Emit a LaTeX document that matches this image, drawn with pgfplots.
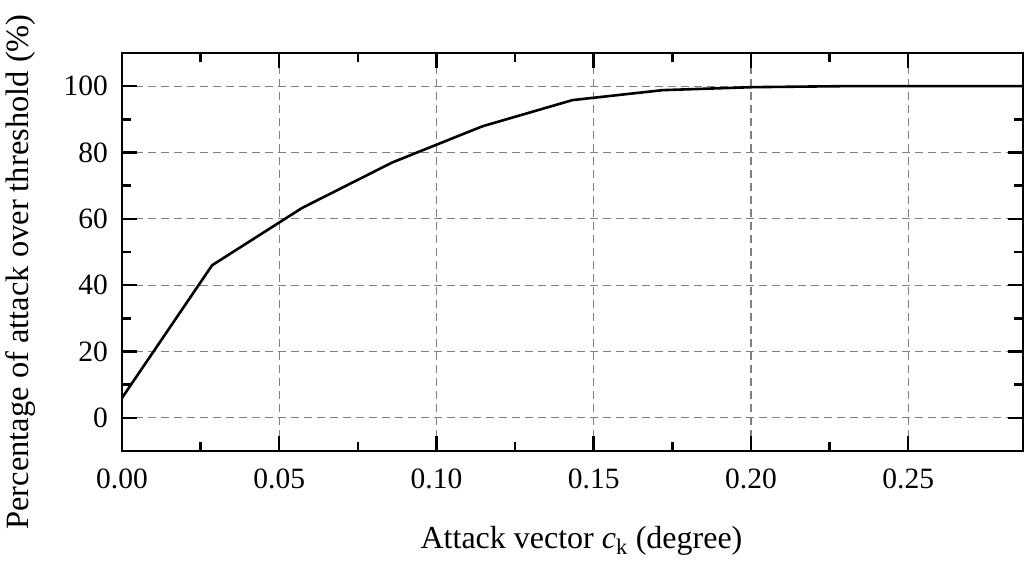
\documentclass[border=0pt]{standalone}
\usepackage{pgfplots}
\pgfplotsset{compat=1.18}
\usepackage{fontspec}
\setmainfont{Liberation Serif}
\begin{document}
\begin{tikzpicture}
\useasboundingbox (-122pt,-109pt) rectangle (904pt,451pt);
\begin{axis}[
  at={(0,0)}, anchor=south west,
  scale only axis,
  width=901pt, height=398pt,
  xmin=0, xmax=0.2865, ymin=-10, ymax=110,
  xtick={0,0.05,0.10,0.15,0.20,0.25},
  ytick={0,20,40,60,80,100},
  minor x tick num=1, minor y tick num=1,
  tick align=inside,
  major tick length=15pt, minor tick length=9pt,
  every tick/.style={line width=2.5pt, black},
  axis line style={line width=2.8pt},
  xmajorgrids, ymajorgrids,
  major grid style={gray, line width=1.3pt, dash pattern=on 8pt off 5pt},
  /pgf/number format/assume math mode=true,
  xticklabel style={/pgf/number format/fixed, /pgf/number format/fixed zerofill, /pgf/number format/precision=2},
  scaled x ticks=false,
  tick label style={font=\fontsize{29.5}{34}\selectfont, inner sep=0pt},
  xticklabel shift=18pt, yticklabel shift=14pt,
  xlabel={Attack vector \textit{c}\textsubscript{k} (degree)},
  ylabel={Percentage of attack over threshold (\%)},
  xlabel style={font=\fontsize{32}{38}\selectfont, inner sep=0pt, at={(axis description cs:0.51,0)}, anchor=base, yshift=-97pt},
  ylabel style={font=\fontsize{32.5}{38}\selectfont, inner sep=0pt, at={(axis description cs:-0.1299,0.45)}, anchor=north},
  clip=false,
]
\addplot[black, line width=2.6pt] coordinates {
(0,6) (0.02865,46) (0.0573,63.3) (0.08595,77) (0.1146,87.9) (0.14325,95.8)
(0.1719,98.8) (0.20055,99.7) (0.2292,100) (0.25785,100) (0.2865,100)
};
\end{axis}
\end{tikzpicture}
\end{document}
